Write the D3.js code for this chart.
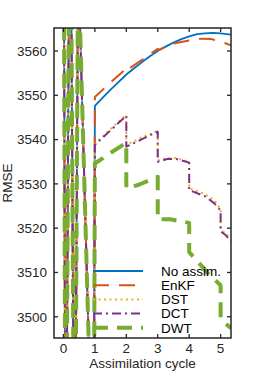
<!DOCTYPE html>
<html>
<head>
<meta charset="utf-8">
<script src="https://cdn.jsdelivr.net/npm/d3@7"></script>
<style>
  body { margin: 0; background: #fff; }
  text { font-family: "Liberation Sans", Arial, sans-serif; }
</style>
</head>
<body>
<div id="chart"></div>
<script>
// spin-up part, shared by every run before the first assimilation
var spinX = [0, 0.07, 0.213, 0.356, 0.467, 0.96]
var spinY = [3620, 3440, 3620, 3440, 3581.6, 3454]

var noAssimX = [1, 1.25, 1.5, 1.75, 2, 2.25, 2.5, 2.75, 3, 3.25, 3.5, 3.75, 4, 4.25, 4.5, 4.75, 5, 5.33]
var noAssimY = [3547.6, 3549.5, 3551.3, 3553.0, 3554.7, 3556.1, 3557.5, 3558.8, 3560.0, 3561.0, 3561.9, 3562.7, 3563.3, 3563.8, 3564.0, 3564.1, 3564.0, 3563.7]

var enkfX = [1, 1, 1.5, 2, 2, 2.5, 3, 3, 3.5, 4, 4.4, 4.7, 5, 5.33]
var enkfY = [3547.6, 3549.6, 3552.9, 3556.0, 3555.6, 3558.0, 3560.5, 3560.2, 3561.7, 3562.4, 3562.8, 3562.7, 3562.1, 3561.3]

var dctX = [1, 1.5, 2, 2, 2.5, 3, 3, 3.3, 3.6, 4, 4, 4.5, 4.8, 5, 5, 5.15, 5.33]
var dstY = [3539.0, 3542.4, 3545.6, 3538.8, 3540.5, 3542.0, 3535.3, 3535.9, 3535.8, 3535.0, 3529.0, 3527.7, 3526.3, 3524.3, 3519.6, 3518.9, 3517.5]
var dctY = [3538.8, 3542.1, 3545.4, 3538.4, 3540.1, 3541.8, 3535.0, 3535.6, 3535.6, 3534.8, 3528.6, 3527.2, 3525.6, 3524.0, 3519.3, 3518.5, 3517.0]

var dwtX = [1, 1.5, 2, 2, 2.4, 2.8, 3, 3, 3.4, 4, 4, 4.3, 4.65, 5, 5, 5.33]
var dwtY = [3534.6, 3537.0, 3539.3, 3529.0, 3529.8, 3531.0, 3531.6, 3522.0, 3522.0, 3521.2, 3514.6, 3512.2, 3509.4, 3507.1, 3499.5, 3497.4]

var seriesNames = ["No assim.", "EnKF", "DST", "DCT", "DWT"]
var xTicks = [0, 1, 2, 3, 4, 5]
var yTicks = [3500, 3510, 3520, 3530, 3540, 3550, 3560]

var width = 256, height = 381
var margin = { left: 54, top: 28, right: 25, bottom: 43 }
var iw = width - margin.left - margin.right
var ih = height - margin.top - margin.bottom
var fontSize = 13.5

var styles = [
  { color: "#0072BD", w: 1.8, dash: null },
  { color: "#D95319", w: 2, dash: "16,10" },
  { color: "#EDB120", w: 2, dash: "2,3.5" },
  { color: "#7E2F8E", w: 2, dash: "9,4,2,4" },
  { color: "#77AC30", w: 4, dash: "15,9" }
]

function joinRun(xs, ys) {
  var pts = spinX.map(function (x, i) { return [x, spinY[i]] })
  xs.forEach(function (x, i) { pts.push([x, ys[i]]) })
  return pts
}

var runs = [
  joinRun(noAssimX, noAssimY),
  joinRun(enkfX, enkfY),
  joinRun(dctX, dstY),
  joinRun(dctX, dctY),
  joinRun(dwtX, dwtY)
]

var x = d3.scaleLinear().domain([-0.3, 5.33]).range([0, iw])
var y = d3.scaleLinear().domain([3495.2, 3565.2]).range([ih, 0])

var svg = d3.select("#chart").append("svg")
  .attr("width", width)
  .attr("height", height)

svg.append("defs").append("clipPath")
  .attr("id", "plotclip")
  .append("rect")
    .attr("width", iw)
    .attr("height", ih)

var g = svg.append("g")
  .attr("transform", "translate(" + margin.left + "," + margin.top + ")")

var line = d3.line()
  .x(function (d) { return x(d[0]) })
  .y(function (d) { return y(d[1]) })

var plot = g.append("g").attr("clip-path", "url(#plotclip)")

runs.forEach(function (pts, i) {
  plot.append("path")
    .attr("d", line(pts))
    .attr("fill", "none")
    .attr("stroke", styles[i].color)
    .attr("stroke-width", styles[i].w)
    .attr("stroke-dasharray", styles[i].dash)
    .attr("stroke-linejoin", "round")
})

// legend, no box, transparent
var leg = g.append("g")
seriesNames.forEach(function (name, i) {
  var ly = 243 + i * 14.2
  leg.append("line")
    .attr("x1", 93 - margin.left)
    .attr("x2", 143 - margin.left)
    .attr("y1", ly)
    .attr("y2", ly)
    .attr("stroke", styles[i].color)
    .attr("stroke-width", styles[i].w)
    .attr("stroke-dasharray", styles[i].dash)
  leg.append("text")
    .attr("x", 161 - margin.left)
    .attr("y", ly + 4.8)
    .attr("font-size", fontSize)
    .attr("fill", "#000")
    .text(name)
})

// axes, MATLAB style box with inward ticks
var axisColor = "#262626"
var tickLen = 4

g.append("rect")
  .attr("width", iw)
  .attr("height", ih)
  .attr("fill", "none")
  .attr("stroke", axisColor)
  .attr("stroke-width", 1.5)

xTicks.forEach(function (t) {
  g.append("line").attr("x1", x(t)).attr("x2", x(t)).attr("y1", ih).attr("y2", ih - tickLen)
    .attr("stroke", axisColor).attr("stroke-width", 1.3)
  g.append("line").attr("x1", x(t)).attr("x2", x(t)).attr("y1", 0).attr("y2", tickLen)
    .attr("stroke", axisColor).attr("stroke-width", 1.3)
  g.append("text")
    .attr("x", x(t))
    .attr("y", ih + 15)
    .attr("text-anchor", "middle")
    .attr("font-size", fontSize)
    .attr("fill", axisColor)
    .text(t)
})

yTicks.forEach(function (t) {
  g.append("line").attr("x1", 0).attr("x2", tickLen).attr("y1", y(t)).attr("y2", y(t))
    .attr("stroke", axisColor).attr("stroke-width", 1.3)
  g.append("line").attr("x1", iw).attr("x2", iw - tickLen).attr("y1", y(t)).attr("y2", y(t))
    .attr("stroke", axisColor).attr("stroke-width", 1.3)
  g.append("text")
    .attr("x", -7)
    .attr("y", y(t) + 4.8)
    .attr("text-anchor", "end")
    .attr("font-size", fontSize)
    .attr("fill", axisColor)
    .text(t)
})

svg.append("text")
  .attr("transform", "translate(" + (margin.left + iw / 2) + ",368)")
  .attr("text-anchor", "middle")
  .attr("font-size", fontSize)
  .attr("fill", axisColor)
  .text("Assimilation cycle")

svg.append("text")
  .attr("transform", "translate(11.7," + (margin.top + ih / 2) + ") rotate(-90)")
  .attr("text-anchor", "middle")
  .attr("font-size", fontSize)
  .attr("fill", axisColor)
  .text("RMSE")
</script>
</body>
</html>
